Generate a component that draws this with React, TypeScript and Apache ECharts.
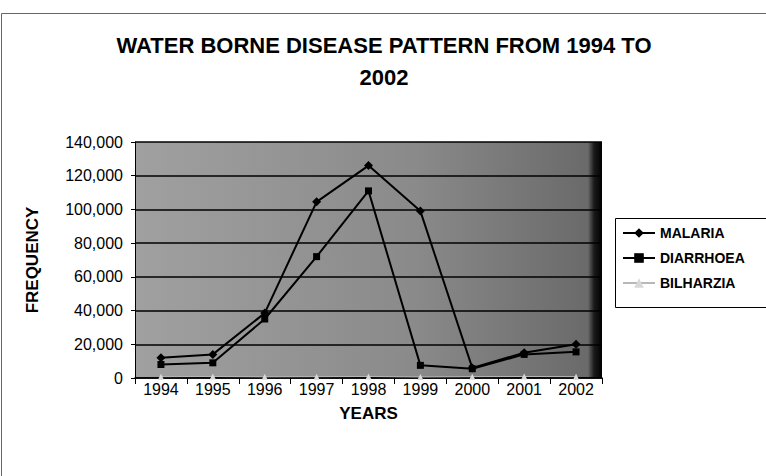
import React, { useEffect, useRef } from "react";
import * as echarts from "echarts";

const years = ["1994", "1995", "1996", "1997", "1998", "1999", "2000", "2001", "2002"];
const malaria = [12000, 14000, 38500, 104500, 126000, 99000, 6000, 15000, 20000];
const diarrhoea = [8000, 9000, 35000, 72000, 111000, 7500, 5500, 14000, 15500];
const bilharzia = [800, 900, 700, 800, 900, 600, 800, 900, 800];
const yTicks = { min: 0, max: 140000, interval: 20000 };

const FONT = "'Liberation Sans', Arial, sans-serif";

export default function App() {
  const ref = useRef<HTMLDivElement>(null);

  useEffect(() => {
    if (!ref.current) return;
    const chart = echarts.init(ref.current, null, { renderer: "svg" });
    chart.setOption({
      animation: false,
      backgroundColor: "#ffffff",
      textStyle: { fontFamily: FONT, color: "#000" },
      title: {
        text: "WATER BORNE DISEASE PATTERN FROM 1994 TO\n2002",
        left: 384,
        top: 29,
        padding: 0,
        textAlign: "center",
        textStyle: {
          fontFamily: FONT,
          fontSize: 22,
          fontWeight: "bold",
          lineHeight: 32,
          color: "#000",
        },
      },
      graphic: [
        // chart frame
        {
          type: "rect",
          shape: { x: 1.5, y: 13.5, width: 800, height: 500 },
          style: { fill: "none", stroke: "#666", lineWidth: 1 },
          silent: true,
        },
        // legend box, running past the right edge
        {
          type: "rect",
          shape: { x: 615.5, y: 218.5, width: 200, height: 89 },
          style: { fill: "#fff", stroke: "#000", lineWidth: 1 },
          silent: true,
          z: -1,
        },
      ],
      legend: {
        orient: "vertical",
        left: 616,
        top: 218,
        data: ["MALARIA", "DIARRHOEA", "BILHARZIA"],
        itemWidth: 32,
        itemHeight: 12,
        itemGap: 11,
        padding: [8, 6, 12, 6],
        borderWidth: 0,
        textStyle: { fontFamily: FONT, fontSize: 14, fontWeight: "bold", color: "#000" },
      },
      grid: {
        left: 135,
        right: 164,
        top: 142,
        bottom: 98,
        show: true,
        borderWidth: 0,
        backgroundColor: {
          type: "linear",
          x: 0,
          y: 0,
          x2: 1,
          y2: 0,
          colorStops: [
            { offset: 0, color: "#a0a0a0" },
            { offset: 0.6, color: "#8a8a8a" },
            { offset: 0.97, color: "#6a6a6a" },
            { offset: 0.983, color: "#1a1a1a" },
            { offset: 1, color: "#000" },
          ],
        },
      },
      xAxis: {
        type: "category",
        data: years,
        boundaryGap: true,
        name: "YEARS",
        nameLocation: "middle",
        nameGap: 27,
        nameTextStyle: { fontFamily: FONT, fontSize: 17, fontWeight: "bold", color: "#000" },
        axisLine: { lineStyle: { color: "#000", width: 1.5 } },
        axisTick: { show: true, alignWithLabel: false, length: 6, lineStyle: { color: "#000" } },
        axisLabel: { fontFamily: FONT, fontSize: 16, color: "#000", margin: 3 },
        splitLine: { show: false },
      },
      yAxis: {
        type: "value",
        min: yTicks.min,
        max: yTicks.max,
        interval: yTicks.interval,
        name: "FREQUENCY",
        nameLocation: "middle",
        nameGap: 94,
        nameRotate: 90,
        nameTextStyle: { fontFamily: FONT, fontSize: 17, fontWeight: "bold", color: "#000" },
        axisLine: { show: true, lineStyle: { color: "#000", width: 1 } },
        axisTick: { show: true, length: 4, lineStyle: { color: "#000" } },
        axisLabel: {
          fontFamily: FONT,
          fontSize: 16,
          color: "#000",
          margin: 12,
          formatter: (v: number) => v.toLocaleString("en-US"),
        },
        splitLine: { show: true, lineStyle: { color: "#000", width: 1.5 } },
      },
      series: [
        {
          name: "MALARIA",
          type: "line",
          data: malaria,
          symbol: "diamond",
          symbolSize: 9,
          itemStyle: { color: "#000" },
          lineStyle: { color: "#000", width: 2 },
          z: 3,
        },
        {
          name: "DIARRHOEA",
          type: "line",
          data: diarrhoea,
          symbol: "rect",
          symbolSize: 7,
          itemStyle: { color: "#000" },
          lineStyle: { color: "#000", width: 2 },
          z: 3,
        },
        {
          name: "BILHARZIA",
          type: "line",
          data: bilharzia,
          symbol: "triangle",
          symbolSize: 6,
          itemStyle: { color: "#d8d8d8" },
          lineStyle: { color: "#b8b8b8", width: 1 },
          z: 2,
        },
      ],
    });
    return () => chart.dispose();
  }, []);

  return (
    <div
      ref={ref}
      style={{ position: "fixed", left: 0, top: 0, width: 766, height: 476 }}
    />
  );
}
